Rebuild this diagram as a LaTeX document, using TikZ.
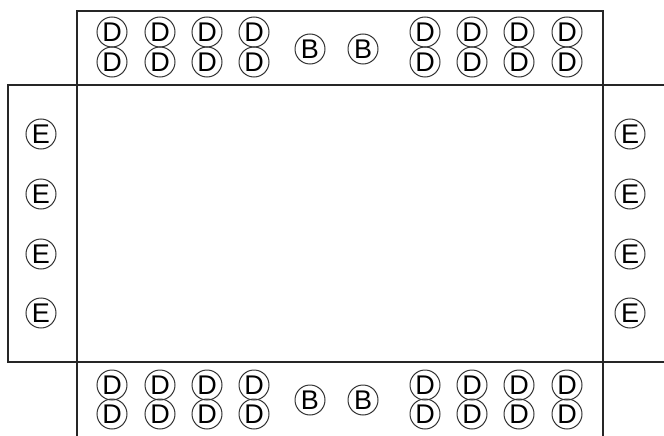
\documentclass[tikz,border=0pt]{standalone}
\usepackage{fontspec}
\setmainfont{Liberation Sans}
\begin{document}
\begin{tikzpicture}[x=1pt,y=-1pt,
      frm/.style={draw=black!85,line width=1.4pt},
      pin/.style={circle,draw=black!80,line width=1pt,minimum size=30pt,
                  inner sep=0pt,font=\fontsize{27}{27}\selectfont},
      dpin/.style={pin},
      bpin/.style={pin},
      epin/.style={pin}]
    \useasboundingbox (0,0) rectangle (664,436);

    % ---------- outline ----------
    \coordinate (tl) at (77,11);
    \coordinate (tr) at (603,11);
    \coordinate (ml) at (8,85);
    \coordinate (mr) at (664,85);
    \coordinate (nl) at (8,362);
    \coordinate (nr) at (664,362);
    \coordinate (bl) at (77,436);
    \coordinate (br) at (603,436);
    \draw[frm] (bl) -- (tl) -- (tr) -- (br);
    \draw[frm] (mr) -- (ml) -- (nl) -- (nr);

    % ---------- top and bottom rows ----------
    \foreach \x [count=\i] in {112,160,207,254,425,472,519,567} {
      \node[dpin] (dt\i a) at (\x,32)  {D};
      \node[dpin] (dt\i b) at (\x,62)  {D};
      \node[dpin] (db\i a) at (\x,385) {D};
      \node[dpin] (db\i b) at (\x,414) {D};
    }
    \foreach \x [count=\i] in {310,363} {
      \node[bpin] (bt\i) at (\x,49)  {B};
      \node[bpin] (bb\i) at (\x,400) {B};
    }

    % ---------- side columns ----------
    \foreach \y [count=\i] in {134,194,254,313} {
      \node[epin] (el\i) at (41,\y)  {E};
      \node[epin] (er\i) at (630,\y) {E};
    }
  \end{tikzpicture}
\end{document}
